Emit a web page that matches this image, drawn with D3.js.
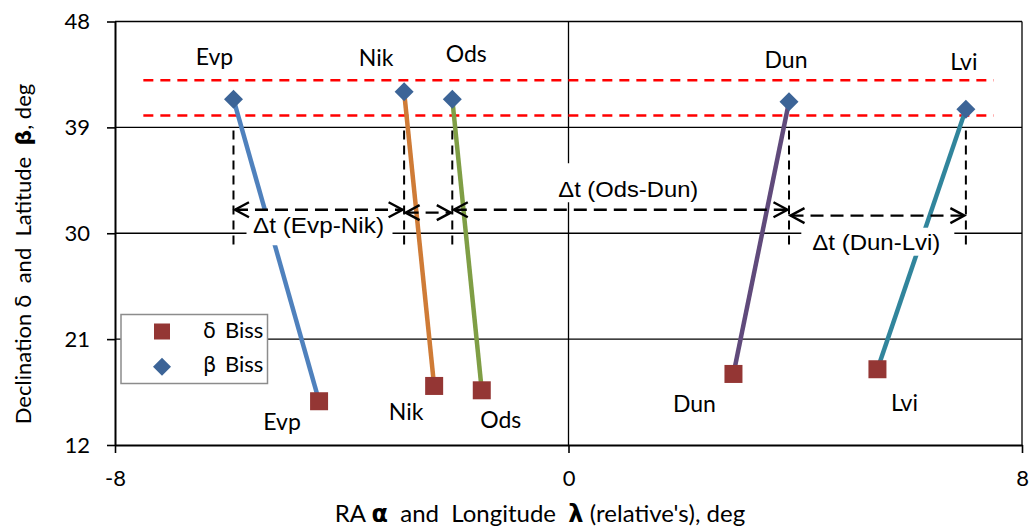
<!DOCTYPE html>
<html>
<head>
<meta charset="utf-8">
<script src="https://cdn.jsdelivr.net/npm/d3@7"></script>
<style>
  html, body { margin: 0; padding: 0; background: #fff; }
  svg { display: block; }
</style>
</head>
<body>
<svg id="chart" width="1031" height="532"></svg>
<script>
// ---------- data ----------
const names     = ["Evp", "Nik", "Ods", "Dun", "Lvi"];
const betaLon   = [-5.91, -2.90, -2.05, 3.89, 7.01];   // β Biss (longitude)
const betaLat   = [41.40, 42.03, 41.40, 41.18, 40.55];
const deltaRA   = [-4.40, -2.37, -1.53, 2.91, 5.45];   // δ Biss (RA)
const deltaDec  = [15.72, 17.02, 16.65, 18.04, 18.44];
const xTicks    = [-8, 0, 8];
const yTicks    = [12, 21, 30, 39, 48];
const bandLat   = [40, 43];
const bandLon   = [-7.5, 7.5];
const guideLat  = [39, 29];
const arrowFrom = [0, 1, 2, 3];
const arrowTo   = [1, 2, 3, 4];
const arrowLat  = [32, 31.75, 32, 31.5];
const dtLabels  = ["Δt (Evp-Nik)", "", "Δt (Ods-Dun)", "Δt (Dun-Lvi)"];
const dtLon     = [-4.41, 0, 1.055, 5.43];
const dtLat     = [30.0, 0, 33.06, 28.6];

// ---------- styles ----------
const lineColors = ["#4F81BD", "#CF7B36", "#7F9E45", "#604A7B", "#31859C"];
const topOff = [[-19, -34], [-28, -26], [14, -37], [-3, -34], [-2, -39]];
const botOff = [[-37, 29], [-28, 34], [19, 38], [-39, 38], [27, 42]];
const dtBox  = [[-72, -23, 146, 35], null, [-76, -34, 153, 39], [-75, -22, 153, 28]];
const dtLen  = [131, 0, 140, 128];

const svg = d3.select("#chart");
const W = 1031, H = 532;
svg.append("rect").attr("width", W).attr("height", H).attr("fill", "#fff");

const x = d3.scaleLinear().domain([-8, 8]).range([115, 1022]);
const y = d3.scaleLinear().domain([12, 48]).range([445, 21.5]);

const font = "Lato, 'Open Sans', sans-serif";
const greek = "'DejaVu Sans', sans-serif";

// grid lines
const g = svg.append("g");
g.selectAll("line.hg").data(yTicks.filter(d => d !== 12)).join("line")
  .attr("x1", x(-8)).attr("x2", x(8)).attr("y1", d => y(d)).attr("y2", d => y(d))
  .attr("stroke", "#000").attr("stroke-width", 1.3);
g.selectAll("line.vg").data(xTicks.filter(d => d !== -8)).join("line")
  .attr("y1", y(12)).attr("y2", y(48)).attr("x1", d => x(d)).attr("x2", d => x(d))
  .attr("stroke", "#000").attr("stroke-width", 1.3);

// axes
const yAxis = svg.append("g").attr("transform", `translate(${x(-8)},0)`)
  .call(d3.axisLeft(y).tickValues(yTicks).tickSize(8).tickSizeOuter(0).tickPadding(17));
const xAxis = svg.append("g").attr("transform", `translate(0,${y(12)})`)
  .call(d3.axisBottom(x).tickValues(xTicks).tickSize(8).tickSizeOuter(0).tickPadding(17));
[yAxis, xAxis].forEach(a => {
  a.select(".domain").attr("stroke", "#000").attr("stroke-width", 2);
  a.selectAll(".tick line").attr("stroke", "#000").attr("stroke-width", 1.6);
  a.selectAll(".tick text").attr("font-family", font).attr("font-size", 22).attr("fill", "#000");
});
xAxis.selectAll(".tick text").text(d => d);

// red band lines
svg.selectAll("line.band").data(bandLat).join("line")
  .attr("x1", x(bandLon[0])).attr("x2", x(bandLon[1]))
  .attr("y1", d => y(d)).attr("y2", d => y(d))
  .attr("stroke", "#FF0000").attr("stroke-width", 2.5).attr("stroke-dasharray", "10,7");

// series lines
svg.selectAll("line.ser").data(names).join("line")
  .attr("x1", (d, i) => x(betaLon[i])).attr("y1", (d, i) => y(betaLat[i]))
  .attr("x2", (d, i) => x(deltaRA[i])).attr("y2", (d, i) => y(deltaDec[i]))
  .attr("stroke", (d, i) => lineColors[i]).attr("stroke-width", 4.5);

// Δt label boxes (white)
dtLabels.forEach((t, i) => {
  if (!t) return;
  const cx = x(dtLon[i]), by = y(dtLat[i]);
  const b = dtBox[i];
  svg.append("rect").attr("x", cx + b[0]).attr("y", by + b[1]).attr("width", b[2]).attr("height", b[3])
    .attr("fill", "#fff");
});

// vertical dashed guides
svg.selectAll("line.guide").data(names).join("line")
  .attr("x1", (d, i) => x(betaLon[i])).attr("x2", (d, i) => x(betaLon[i]))
  .attr("y1", y(guideLat[0]) + 3).attr("y2", y(guideLat[1]))
  .attr("stroke", "#000").attr("stroke-width", 2).attr("stroke-dasharray", "9,6");

// arrows
arrowFrom.forEach((f, i) => {
  const x1 = x(betaLon[f]) + 1.5, x2 = x(betaLon[arrowTo[i]]) - 1.5, yy = y(arrowLat[i]);
  svg.append("line").attr("x1", x1).attr("x2", x2).attr("y1", yy).attr("y2", yy)
    .attr("stroke", "#000").attr("stroke-width", 2.4).attr("stroke-dasharray", "13,7");
  const ah = 14, aw = 7.5;
  svg.append("path").attr("d", `M${x1 + ah},${yy - aw} L${x1},${yy} L${x1 + ah},${yy + aw}`)
    .attr("fill", "none").attr("stroke", "#000").attr("stroke-width", 2.4);
  svg.append("path").attr("d", `M${x2 - ah},${yy - aw} L${x2},${yy} L${x2 - ah},${yy + aw}`)
    .attr("fill", "none").attr("stroke", "#000").attr("stroke-width", 2.4);
});

dtLabels.forEach((t, i) => {
  if (!t) return;
  svg.append("text").attr("x", x(dtLon[i])).attr("y", y(dtLat[i]))
    .attr("text-anchor", "middle").attr("font-family", "'Liberation Sans', Arial, sans-serif")
    .attr("font-size", 21.5).attr("fill", "#000")
    .attr("textLength", dtLen[i]).attr("lengthAdjust", "spacingAndGlyphs")
    .text(t);
});

// markers
const diamond = (cx, cy, r) => `M${cx},${cy - r} L${cx + r},${cy} L${cx},${cy + r} L${cx - r},${cy} Z`;
svg.selectAll("path.beta").data(names).join("path")
  .attr("d", (d, i) => diamond(x(betaLon[i]), y(betaLat[i]), 9.5))
  .attr("fill", "#3C6497");
svg.selectAll("rect.delta").data(names).join("rect")
  .attr("x", (d, i) => x(deltaRA[i]) - 9).attr("y", (d, i) => y(deltaDec[i]) - 9)
  .attr("width", 18).attr("height", 18).attr("fill", "#943634");

// point labels
svg.selectAll("text.top").data(names).join("text")
  .attr("x", (d, i) => x(betaLon[i]) + topOff[i][0]).attr("y", (d, i) => y(betaLat[i]) + topOff[i][1])
  .attr("text-anchor", "middle").attr("font-family", font).attr("font-size", 23).attr("fill", "#000")
  .text(d => d);
svg.selectAll("text.bot").data(names).join("text")
  .attr("x", (d, i) => x(deltaRA[i]) + botOff[i][0]).attr("y", (d, i) => y(deltaDec[i]) + botOff[i][1])
  .attr("text-anchor", "middle").attr("font-family", font).attr("font-size", 23).attr("fill", "#000")
  .text(d => d);

// legend
const lg = svg.append("g");
lg.append("rect").attr("x", 121).attr("y", 314.5).attr("width", 146.5).attr("height", 69)
  .attr("fill", "#fff").attr("stroke", "#8c8c8c").attr("stroke-width", 1.5);
lg.append("rect").attr("x", 154).attr("y", 323.5).attr("width", 16).attr("height", 16).attr("fill", "#943634");
lg.append("path").attr("d", diamond(162, 366.7, 9)).attr("fill", "#3C6497");
const lt1 = lg.append("text").attr("x", 203).attr("y", 338).attr("font-family", font).attr("font-size", 22);
lt1.append("tspan").attr("font-family", greek).attr("font-size", 21).text("δ");
lt1.append("tspan").attr("x", 225).text("Biss");
const lt2 = lg.append("text").attr("x", 203).attr("y", 372).attr("font-family", font).attr("font-size", 22);
lt2.append("tspan").attr("font-family", greek).attr("font-size", 21).text("β");
lt2.append("tspan").attr("x", 225).text("Biss");

// axis titles
const xt = svg.append("text").attr("x", 540).attr("y", 522).attr("text-anchor", "middle")
  .attr("font-family", font).attr("font-size", 24).attr("fill", "#000").style("white-space", "pre");
xt.append("tspan").text("RA ");
xt.append("tspan").attr("font-family", greek).attr("font-weight", "bold").text("α");
xt.append("tspan").text("  and  Longitude  ");
xt.append("tspan").attr("font-family", greek).attr("font-weight", "bold").text("λ");
xt.append("tspan").text(" (relative's), deg");

const yt = svg.append("text").attr("transform", "translate(31,254) rotate(-90)").attr("text-anchor", "middle")
  .attr("font-family", font).attr("font-size", 22).attr("fill", "#000").style("white-space", "pre");
yt.append("tspan").text("Declination ");
yt.append("tspan").attr("font-family", greek).text("δ");
yt.append("tspan").text("  and  Latitude  ");
yt.append("tspan").attr("font-family", greek).attr("font-weight", "bold").text("β");
yt.append("tspan").text(", deg");
</script>
</body>
</html>
